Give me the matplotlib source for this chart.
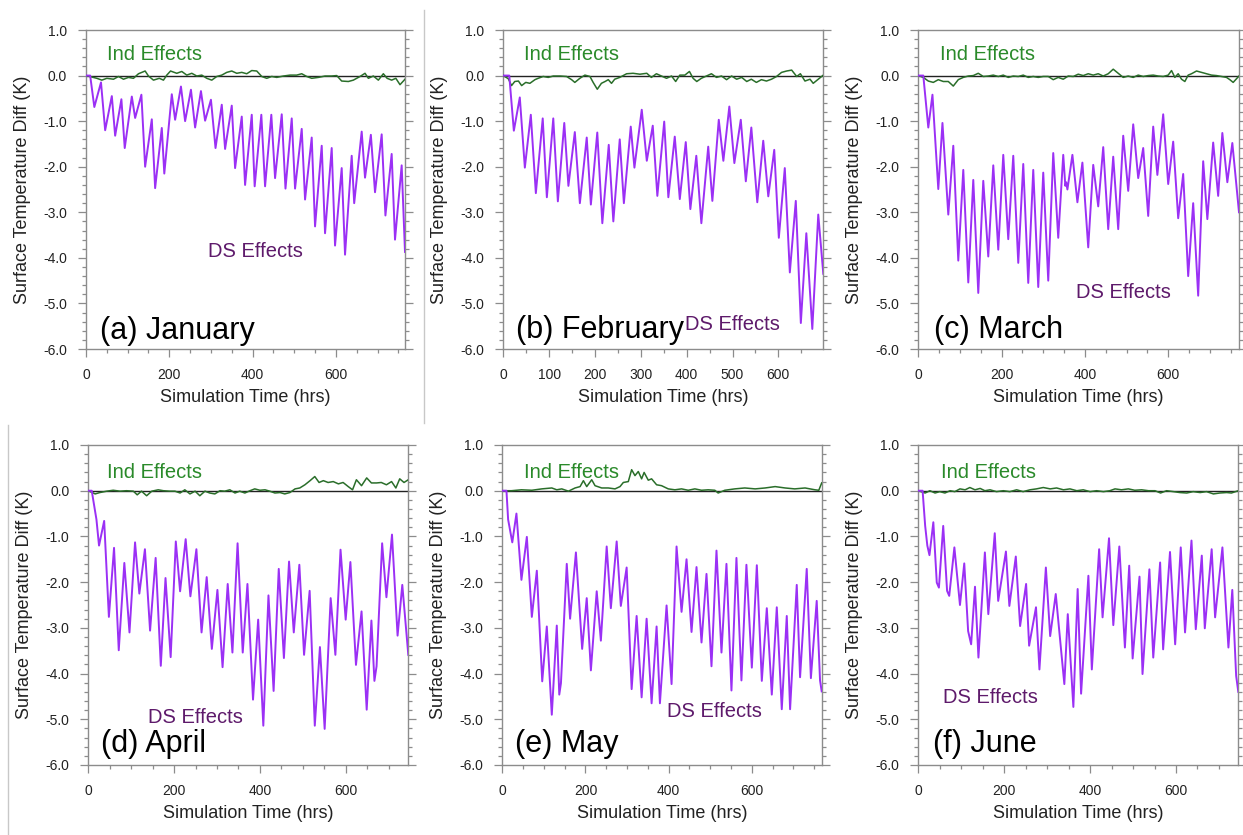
import matplotlib
matplotlib.use("Agg")
import matplotlib.pyplot as plt
from matplotlib.ticker import MultipleLocator, FormatStrFormatter
from matplotlib.lines import Line2D

plt.rcParams['font.family'] = ['Liberation Sans', 'DejaVu Sans']
plt.rcParams['axes.unicode_minus'] = False

# ---------------------------------------------------------------------------
# Surface temperature differences (K) versus simulation hour.
# Each series is a list of (hour, value) pairs.
# ---------------------------------------------------------------------------
jan_ds = [(0, 0), (10, 0), (20, -0.69), (36, -0.15), (46, -1.20), (62, -0.45), (70, -1.32),
          (85, -0.52), (93, -1.59), (110, -0.46), (118, -0.93), (133, -0.42), (142, -2.00),
          (158, -0.96), (166, -2.47), (182, -1.15), (188, -2.15), (206, -0.41), (214, -0.97),
          (228, -0.24), (238, -1.00), (252, -0.31), (262, -1.14), (276, -0.34), (286, -0.99),
          (300, -0.53), (311, -1.59), (326, -0.64), (334, -1.61), (350, -0.66), (358, -2.03),
          (374, -0.90), (382, -2.40), (398, -0.86), (405, -2.43), (421, -0.86), (430, -2.43),
          (445, -0.86), (454, -2.25), (470, -0.85), (479, -2.48), (494, -0.94), (502, -2.48),
          (518, -1.17), (526, -2.72), (542, -1.36), (550, -3.31), (566, -1.54), (574, -3.46),
          (590, -1.59), (598, -3.73), (614, -2.03), (622, -3.93), (638, -1.76), (644, -2.80),
          (662, -1.23), (670, -2.24), (684, -1.30), (694, -2.56), (710, -1.29), (719, -3.07),
          (734, -1.72), (742, -3.60), (758, -1.97), (766, -3.87)]
jan_ind = [(0, 0), (26, -0.06), (38, -0.10), (50, -0.06), (66, -0.08), (78, -0.02), (90, -0.08),
           (102, -0.04), (114, -0.06), (126, 0.04), (142, 0.10), (150, -0.01), (162, -0.10),
           (176, -0.06), (186, -0.10), (194, 0.01), (203, 0.10), (218, 0.05), (230, 0.09),
           (242, 0.01), (254, 0.05), (266, -0.01), (278, 0.01), (290, -0.06), (302, -0.10),
           (314, -0.02), (326, 0.01), (338, 0.07), (350, 0.10), (362, 0.05), (374, 0.07),
           (386, 0.04), (398, 0.11), (410, 0.10), (422, -0.02), (434, -0.06), (446, -0.02),
           (458, -0.04), (474, -0.01), (490, 0.01), (506, 0.01), (518, 0.04), (530, -0.02),
           (542, -0.06), (558, -0.04), (574, -0.01), (590, -0.01), (602, 0), (614, -0.12),
           (630, -0.13), (642, -0.10), (658, -0.02), (670, 0.05), (678, -0.06), (690, -0.01),
           (702, -0.10), (714, 0.04), (723, -0.06), (734, -0.10), (744, -0.06), (754, -0.20),
           (766, -0.08)]

feb_ds = [(0, 0), (13, 0), (23, -1.21), (36, -0.48), (47, -2.02), (60, -0.86), (71, -2.58),
          (86, -0.94), (95, -2.67), (109, -0.94), (119, -2.76), (133, -1.04), (142, -2.42),
          (156, -1.24), (167, -2.80), (182, -1.36), (191, -2.83), (205, -1.25), (216, -3.24),
          (230, -1.52), (240, -3.20), (254, -1.40), (263, -2.80), (278, -1.12), (286, -2.02),
          (302, -0.75), (313, -1.87), (326, -1.10), (336, -2.64), (351, -1.01), (360, -2.67),
          (374, -1.34), (385, -2.71), (398, -1.46), (408, -2.93), (421, -1.76), (432, -3.24),
          (447, -1.56), (456, -2.75), (470, -0.97), (480, -1.87), (493, -0.68), (504, -1.92),
          (518, -0.97), (529, -2.32), (541, -1.14), (554, -2.78), (567, -1.43), (578, -2.65),
          (591, -1.63), (601, -3.56), (614, -2.03), (625, -4.32), (638, -2.75), (649, -5.43),
          (661, -3.46), (674, -5.56), (687, -3.05), (698, -4.35)]
feb_ind = [(0, 0), (11, -0.07), (18, -0.22), (25, -0.13), (33, -0.12), (40, -0.22), (49, -0.15),
           (58, -0.17), (69, -0.09), (76, -0.06), (87, -0.02), (98, -0.04), (109, -0.01),
           (124, -0.01), (138, -0.02), (149, -0.09), (156, -0.15), (167, -0.06), (178, 0.01),
           (189, -0.02), (196, -0.15), (205, -0.30), (214, -0.17), (222, -0.13), (229, -0.09),
           (236, -0.17), (243, -0.08), (254, -0.04), (269, 0.04), (283, 0.05), (298, 0.03),
           (313, 0.05), (323, -0.04), (334, 0.04), (345, -0.01), (356, -0.06), (367, -0.01),
           (376, -0.13), (385, 0.01), (396, 0.01), (406, 0.09), (414, -0.06), (422, -0.13),
           (432, -0.06), (443, -0.01), (454, 0.04), (465, -0.04), (476, -0.01), (487, -0.09),
           (498, -0.01), (509, -0.08), (520, -0.04), (531, -0.13), (541, -0.08), (552, -0.15),
           (563, -0.09), (574, -0.12), (585, -0.08), (596, -0.02), (607, 0.07), (618, 0.10),
           (629, 0.12), (640, -0.02), (648, 0.04), (658, -0.12), (669, -0.08), (676, -0.17),
           (687, -0.08), (698, 0.01)]

mar_ds = [(0, 0), (12, 0), (24, -1.14), (34, -0.42), (48, -2.49), (58, -1.04), (72, -3.05),
          (84, -1.54), (96, -4.06), (108, -2.07), (120, -4.54), (132, -2.29), (144, -4.77),
          (156, -2.31), (168, -3.97), (180, -1.97), (192, -3.82), (204, -1.74), (216, -3.59),
          (228, -1.76), (240, -4.11), (252, -1.94), (264, -4.55), (276, -2.07), (288, -4.64),
          (300, -2.13), (312, -4.50), (324, -1.70), (336, -3.56), (348, -1.74), (353, -2.42),
          (355, -2.34), (358, -2.50), (370, -1.74), (382, -2.78), (394, -1.91), (408, -3.77),
          (420, -1.96), (432, -2.87), (444, -1.57), (456, -3.37), (468, -1.78), (480, -3.37),
          (492, -1.32), (504, -2.53), (516, -1.07), (528, -2.25), (540, -1.59), (552, -3.08),
          (564, -1.12), (574, -2.18), (588, -0.85), (600, -2.38), (612, -1.45), (624, -3.13),
          (636, -2.16), (648, -4.40), (660, -2.80), (672, -4.83), (684, -1.88), (694, -3.15),
          (708, -1.47), (720, -2.64), (730, -1.26), (742, -2.34), (754, -1.48), (770, -3.00)]
mar_ind = [(0, 0), (12, -0.04), (24, -0.12), (36, -0.15), (48, -0.09), (60, -0.13), (72, -0.13),
           (84, -0.23), (96, -0.09), (108, -0.04), (120, -0.01), (132, 0), (144, 0.05),
           (156, -0.02), (168, -0.01), (180, 0.01), (192, -0.02), (204, 0.01), (216, -0.04),
           (228, -0.01), (240, -0.02), (252, 0.01), (264, -0.04), (276, -0.02), (288, -0.04),
           (300, -0.02), (312, -0.02), (324, -0.09), (336, -0.04), (348, -0.08), (360, -0.01),
           (372, -0.02), (384, 0.03), (396, 0), (408, 0.04), (420, 0.01), (432, 0.04),
           (444, -0.01), (456, 0.04), (468, 0.14), (480, 0.05), (492, -0.04), (504, -0.01),
           (516, -0.04), (528, 0.01), (540, -0.02), (552, 0), (564, 0.01), (576, -0.01),
           (588, -0.02), (600, 0.01), (608, 0.11), (616, -0.04), (624, 0.04), (632, -0.08),
           (640, -0.13), (648, 0.01), (656, 0.04), (668, 0.10), (680, 0.07), (692, 0.04),
           (704, 0.01), (716, 0), (728, -0.02), (740, -0.04), (748, -0.09), (756, -0.15),
           (770, -0.01)]

apr_ds = [(0, 0), (8, 0), (19, -0.63), (25, -1.20), (37, -0.66), (48, -2.76), (60, -1.25),
          (71, -3.49), (84, -1.58), (96, -3.10), (109, -1.13), (119, -2.25), (132, -1.28),
          (144, -3.06), (157, -1.47), (169, -3.83), (180, -1.91), (192, -3.64), (204, -1.11),
          (214, -2.20), (227, -1.06), (238, -2.31), (252, -1.28), (264, -3.10), (276, -1.89),
          (288, -3.46), (301, -2.17), (313, -3.86), (325, -2.04), (336, -3.54), (348, -1.15),
          (360, -3.54), (371, -2.04), (384, -4.57), (396, -2.82), (408, -5.14), (420, -2.29),
          (432, -4.38), (444, -1.71), (456, -3.66), (468, -1.55), (479, -3.10), (492, -1.62),
          (503, -3.59), (516, -2.19), (528, -5.14), (540, -3.42), (551, -5.21), (565, -2.35),
          (576, -3.59), (588, -1.29), (600, -2.82), (611, -1.56), (624, -3.81), (637, -2.64),
          (649, -4.79), (660, -2.84), (667, -4.16), (672, -3.84), (685, -1.15), (695, -2.33),
          (708, -0.96), (721, -3.17), (732, -2.06), (746, -3.59)]
apr_ind = [(0, 0), (16, -0.07), (27, -0.04), (43, -0.01), (58, 0.01), (74, -0.01), (89, 0),
           (105, -0.01), (114, -0.09), (124, -0.01), (136, -0.11), (148, -0.01), (163, 0.02),
           (175, 0), (190, -0.01), (202, -0.01), (214, -0.05), (225, 0.02), (237, -0.07),
           (249, -0.01), (260, -0.11), (272, -0.01), (283, -0.05), (295, -0.07), (307, 0),
           (318, -0.01), (330, 0.02), (342, -0.05), (353, -0.01), (365, -0.05), (377, 0),
           (388, 0.04), (400, 0.01), (412, 0.02), (423, -0.01), (435, -0.05), (447, -0.04),
           (458, -0.07), (470, -0.04), (482, 0.04), (493, 0.06), (505, 0.13), (517, 0.22),
           (528, 0.31), (538, 0.18), (548, 0.22), (559, 0.18), (571, 0.20), (583, 0.15),
           (594, 0.18), (606, 0.09), (616, 0.02), (625, 0.24), (637, 0.11), (649, 0.28),
           (660, 0.17), (672, 0.17), (683, 0.18), (695, 0.13), (707, 0.20), (717, 0.06),
           (726, 0.26), (736, 0.18), (746, 0.24)]

may_ds = [(0, 0), (10, 0), (14, -0.63), (24, -1.13), (34, -0.50), (46, -1.95), (59, -1.01),
          (71, -2.76), (83, -1.75), (96, -4.17), (107, -2.97), (119, -4.90), (131, -2.95),
          (137, -4.46), (141, -4.21), (155, -1.60), (163, -2.80), (177, -1.35), (192, -3.46),
          (203, -2.35), (213, -3.93), (227, -2.20), (237, -3.28), (251, -1.22), (261, -2.57),
          (275, -1.11), (285, -2.52), (299, -1.68), (311, -4.34), (323, -2.74), (335, -4.52),
          (347, -2.80), (359, -4.65), (371, -2.97), (379, -4.65), (395, -2.51), (407, -4.23),
          (419, -1.22), (431, -2.65), (443, -1.50), (455, -3.09), (467, -1.67), (479, -3.32),
          (491, -1.82), (503, -3.84), (515, -1.31), (527, -3.54), (539, -1.60), (551, -4.37),
          (563, -1.47), (575, -4.15), (587, -1.62), (600, -3.87), (612, -1.63), (624, -4.16),
          (636, -2.57), (648, -4.46), (660, -2.55), (672, -4.78), (684, -2.74), (692, -4.78),
          (708, -2.06), (716, -4.08), (732, -1.71), (742, -4.10), (756, -2.41), (764, -4.15),
          (768, -4.39)]
may_ind = [(0, 0), (22, 0), (46, 0.02), (71, 0.01), (95, 0.04), (119, 0.06), (131, 0.02),
           (143, 0.04), (159, -0.01), (175, 0.06), (187, 0.09), (195, 0.22), (203, 0.09),
           (215, 0.24), (223, 0.11), (239, 0.06), (255, 0.06), (271, 0.04), (283, 0.09),
           (291, 0.18), (303, 0.20), (311, 0.46), (319, 0.33), (327, 0.42), (335, 0.26),
           (341, 0.40), (351, 0.23), (359, 0.26), (371, 0.13), (383, 0.11), (399, 0.04),
           (415, 0.02), (431, 0.04), (447, 0.01), (463, 0.04), (479, 0.01), (495, 0.02),
           (511, 0.01), (519, -0.05), (535, 0.01), (559, 0.04), (583, 0.06), (608, 0.04),
           (632, 0.06), (656, 0.09), (680, 0.06), (703, 0.04), (728, 0.06), (752, 0.02),
           (761, 0.01), (768, 0.17)]

jun_ds = [(0, 0), (10, 0), (16, -0.77), (21, -1.20), (26, -1.41), (35, -0.69), (43, -2.01),
          (48, -2.12), (58, -0.77), (67, -2.19), (72, -2.30), (84, -1.24), (97, -2.50),
          (107, -1.59), (116, -3.07), (123, -3.36), (132, -2.10), (140, -3.65), (155, -1.35),
          (163, -2.70), (178, -0.93), (186, -2.41), (204, -1.33), (212, -2.52), (227, -1.44),
          (237, -2.96), (251, -2.04), (258, -3.39), (274, -2.55), (282, -3.91), (297, -1.68),
          (307, -3.18), (320, -2.26), (340, -4.23), (348, -2.70), (361, -4.73), (371, -2.15),
          (379, -4.44), (396, -1.86), (404, -3.91), (421, -1.28), (429, -2.77), (444, -1.04),
          (454, -2.94), (468, -1.22), (481, -3.43), (491, -1.64), (499, -3.67), (515, -1.88),
          (522, -4.01), (538, -1.72), (547, -3.65), (563, -1.57), (570, -3.47), (586, -1.34),
          (598, -3.36), (611, -1.24), (621, -3.10), (636, -1.09), (646, -3.03), (660, -1.42),
          (667, -3.01), (683, -1.28), (691, -2.77), (708, -1.24), (722, -3.43), (731, -2.17),
          (740, -4.05), (745, -4.40)]
jun_ind = [(0, 0), (16, -0.05), (27, 0), (39, -0.05), (50, -0.02), (62, -0.05), (74, 0),
           (85, -0.02), (97, 0.04), (109, 0.02), (120, 0.07), (132, 0.02), (144, 0.05),
           (155, 0), (167, 0.02), (182, -0.02), (198, 0), (213, -0.02), (229, 0.02),
           (244, -0.02), (260, 0.02), (275, 0.04), (291, 0.07), (307, 0.04), (322, 0.06),
           (338, 0.02), (353, 0.04), (369, 0), (384, 0.02), (400, -0.02), (415, 0),
           (431, -0.02), (446, 0), (458, 0.04), (473, 0.02), (489, 0.04), (504, 0.01),
           (520, 0.02), (536, 0), (551, 0), (564, -0.05), (578, 0), (594, -0.02), (609, -0.04),
           (625, -0.05), (640, -0.02), (656, -0.04), (671, -0.02), (687, -0.07), (702, -0.05),
           (718, -0.04), (729, -0.05), (745, 0)]

panel_titles = ["(a) January", "(b) February", "(c) March",
                "(d) April", "(e) May", "(f) June"]
panel_xmax = [766, 698, 770, 746, 768, 745]
panel_xmajor = [200, 100, 200, 200, 200, 200]
ds_series = [jan_ds, feb_ds, mar_ds, apr_ds, may_ds, jun_ds]
ind_series = [jan_ind, feb_ind, mar_ind, apr_ind, may_ind, jun_ind]

# ---------------------------------------------------------------------------
# Layout: axes rectangles and label positions (axes fraction)
# ---------------------------------------------------------------------------
W, H = 1243, 835
rects = [
    [86 / W, (H - 349) / H, 319 / W, 319 / H],
    [503.3 / W, (H - 349) / H, 320 / W, 319 / H],
    [918.3 / W, (H - 349) / H, 320.7 / W, 319 / H],
    [88.3 / W, (H - 765) / H, 320 / W, 320 / H],
    [502.3 / W, (H - 765) / H, 319.4 / W, 320 / H],
    [918.3 / W, (H - 765) / H, 320 / W, 320 / H],
]
ind_text_pos = [(0.065, 0.906), (0.065, 0.906), (0.068, 0.906),
                (0.057, 0.896), (0.069, 0.896), (0.070, 0.896)]
ds_text_pos = [(0.383, 0.289), (0.568, 0.060), (0.491, 0.161),
               (0.186, 0.130), (0.515, 0.151), (0.078, 0.193)]
title_pos = [(0.044, 0.031), (0.040, 0.035), (0.050, 0.035),
             (0.040, 0.042), (0.040, 0.042), (0.045, 0.042)]

DS_LINE = '#9b30f5'
DS_TEXT = '#5e1a6b'
IND_LINE = '#2a6e2a'
IND_TEXT = '#2a8a2a'
FRAME = '#8c8c8c'

fig = plt.figure(figsize=(W / 100, H / 100), dpi=100)
fig.patch.set_facecolor('white')

for i in range(6):
    ax = fig.add_axes(rects[i])
    ds_h = [p[0] for p in ds_series[i]]
    ds_v = [p[1] for p in ds_series[i]]
    ind_h = [p[0] for p in ind_series[i]]
    ind_v = [p[1] for p in ind_series[i]]

    ax.axhline(0.0, color='#222222', lw=1.0, zorder=2)
    ax.plot(ind_h, ind_v, color=IND_LINE, lw=1.1, zorder=3)
    ax.plot(ds_h, ds_v, color=DS_LINE, lw=1.4, zorder=3)

    ax.set_xlim(0, panel_xmax[i])
    ax.set_ylim(-6.0, 1.0)
    ax.xaxis.set_major_locator(MultipleLocator(panel_xmajor[i]))
    ax.xaxis.set_minor_locator(MultipleLocator(50))
    ax.yaxis.set_major_locator(MultipleLocator(1.0))
    ax.yaxis.set_minor_locator(MultipleLocator(0.2))
    ax.yaxis.set_major_formatter(FormatStrFormatter('%.1f'))

    for s in ax.spines.values():
        s.set_color(FRAME)
        s.set_linewidth(1.0)
    ax.tick_params(which='both', direction='out', color=FRAME, width=0.9,
                   left=True, right=True, bottom=True, top=False,
                   labelright=False, labeltop=False)
    ax.tick_params(which='major', length=6, labelsize=10, labelcolor='#222222')
    ax.tick_params(axis='y', which='major', pad=7.5)
    ax.tick_params(axis='x', which='major', pad=8)
    ax.tick_params(which='minor', length=3)

    ax.set_ylabel('Surface Temperature Diff (K)', fontsize=13, color='#222222')
    ax.yaxis.set_label_coords(-0.172, 0.5)
    ax.set_xlabel('Simulation Time (hrs)', fontsize=13, color='#222222')
    ax.xaxis.set_label_coords(0.5, -0.125)

    ax.text(*ind_text_pos[i], 'Ind Effects', transform=ax.transAxes,
            color=IND_TEXT, fontsize=14.5, va='baseline', ha='left')
    ax.text(*ds_text_pos[i], 'DS Effects', transform=ax.transAxes,
            color=DS_TEXT, fontsize=14.5, va='baseline', ha='left', zorder=5)
    ax.text(*title_pos[i], panel_titles[i], transform=ax.transAxes,
            color='black', fontsize=22, va='baseline', ha='left', zorder=5)

# thin panel separators
fig.add_artist(Line2D([424 / W, 424 / W], [1 - 10 / H, 1 - 423 / H],
                      transform=fig.transFigure, color='#c8c8c8', lw=1.0))
fig.add_artist(Line2D([8 / W, 8 / W], [1 - 425 / H, 0.0],
                      transform=fig.transFigure, color='#c8c8c8', lw=1.0))

fig.savefig('out.png', dpi=100, facecolor='white')
